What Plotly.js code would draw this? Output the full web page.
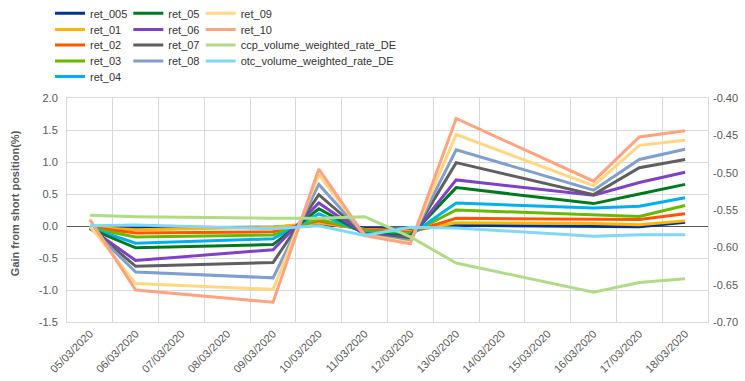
<!DOCTYPE html>
<html>
<head>
<meta charset="utf-8">
<script src="https://cdn.plot.ly/plotly-3.0.1.min.js"></script>
<style>html,body{margin:0;padding:0;background:#fff;}#chart{width:745px;height:381px;}</style>
</head>
<body>
<div id="chart"></div>
<script>
var dates = ['05/03/2020','06/03/2020','07/03/2020','08/03/2020','09/03/2020','10/03/2020','11/03/2020',
             '12/03/2020','13/03/2020','14/03/2020','15/03/2020','16/03/2020','17/03/2020','18/03/2020'];

var ret_005 = [-0.02, -0.03, null, null, -0.02, 0.03, -0.03, -0.05, 0.01, null, null, 0.00, -0.01, 0.06];
var ret_01  = [-0.02, -0.06, null, null, -0.02, 0.05, -0.05, -0.08, 0.05, null, null, 0.04, 0.02, 0.08];
var ret_02  = [-0.02, -0.11, null, null, -0.09, 0.08, -0.06, -0.10, 0.12, null, null, 0.10, 0.10, 0.19];
var ret_03  = [-0.03, -0.17, null, null, -0.14, 0.11, -0.08, -0.12, 0.25, null, null, 0.18, 0.15, 0.32];
var ret_04  = [-0.03, -0.27, null, null, -0.20, 0.19, -0.10, -0.14, 0.36, null, null, 0.28, 0.31, 0.44];
var ret_05  = [-0.04, -0.34, null, null, -0.29, 0.27, -0.12, -0.15, 0.60, null, null, 0.35, 0.50, 0.65];
var ret_06  = [-0.03, -0.54, null, null, -0.37, 0.36, -0.13, -0.18, 0.72, null, null, 0.48, 0.68, 0.84];
var ret_07  = [-0.03, -0.63, null, null, -0.57, 0.49, -0.13, -0.20, 0.99, null, null, 0.49, 0.91, 1.04];
var ret_08  = [-0.02, -0.72, null, null, -0.81, 0.65, -0.14, -0.23, 1.19, null, null, 0.56, 1.04, 1.20];
var ret_09  = [ 0.00, -0.90, null, null, -0.99, 0.80, -0.14, -0.26, 1.43, null, null, 0.63, 1.26, 1.34];
var ret_10  = [ 0.10, -1.00, null, null, -1.19, 0.89, -0.15, -0.28, 1.68, null, null, 0.70, 1.39, 1.49];
var ccp_volume_weighted_rate_DE = [-0.557, -0.559, null, null, -0.561, -0.561, -0.559, -0.586, -0.621, null, null, -0.660, -0.647, -0.642];
var otc_volume_weighted_rate_DE = [-0.571, -0.570, null, null, -0.575, -0.571, -0.584, -0.573, -0.574, null, null, -0.585, -0.583, -0.583];

var leftTickVals = [-1.5, -1.0, -0.5, 0.0, 0.5, 1.0, 1.5, 2.0];
var leftTickText = ['-1.5', '-1.0', '-0.5', '0.0', '0.5', '1.0', '1.5', '2.0'];
var rightTickVals = [-0.70, -0.65, -0.60, -0.55, -0.50, -0.45, -0.40];
var rightTickText = ['-0.70', '-0.65', '-0.60', '-0.55', '-0.50', '-0.45', '-0.40'];
var yTitle = 'Gain from short position(%)';

var seriesNames = ['ret_005','ret_01','ret_02','ret_03','ret_04','ret_05','ret_06','ret_07','ret_08','ret_09','ret_10',
                   'ccp_volume_weighted_rate_DE','otc_volume_weighted_rate_DE'];
var seriesValues = [ret_005, ret_01, ret_02, ret_03, ret_04, ret_05, ret_06, ret_07, ret_08, ret_09, ret_10,
                    ccp_volume_weighted_rate_DE, otc_volume_weighted_rate_DE];
var colors = ['#003399','#ffb400','#ff5500','#66bb00','#00b0f0','#007a1e','#8040c8','#5f5f5f','#7f9fd0','#ffd780','#ffa27f',
              '#b0dc88','#80d8f4'];

var W = 745, H = 381;
var colTextX = [90, 168.3, 240.7];
var rowY = [13.3, 29.5, 45, 61, 76.5];

var traces = [];
var layout = {
  width: W, height: H,
  margin: {l: 67, r: 37, t: 98, b: 59, pad: 0, autoexpand: false},
  paper_bgcolor: '#ffffff', plot_bgcolor: '#ffffff',
  font: {family: 'Liberation Sans, Arial, sans-serif', size: 11, color: '#595959'},
  xaxis: {
    type: 'category', categoryorder: 'array', categoryarray: dates,
    range: [-0.5, 13.5], tickson: 'boundaries', ticks: '',
    showgrid: true, gridcolor: '#d9d9d9', gridwidth: 1,
    showline: true, linecolor: '#d9d9d9', linewidth: 1, mirror: true,
    tickangle: -45, tickfont: {size: 11, color: '#595959'}, fixedrange: true, automargin: false
  },
  yaxis: {
    range: [-1.5, 2.0], tickvals: leftTickVals, ticktext: leftTickText, ticks: '',
    showgrid: true, gridcolor: '#d9d9d9', gridwidth: 1,
    showline: true, linecolor: '#d9d9d9', linewidth: 1, mirror: true,
    zeroline: true, zerolinecolor: '#595959', zerolinewidth: 1,
    tickfont: {size: 11, color: '#595959'}, ticklabelstandoff: 6, automargin: false
  },
  yaxis2: {
    overlaying: 'y', side: 'right', range: [-0.70, -0.40],
    tickvals: rightTickVals, ticktext: rightTickText, ticks: '',
    showgrid: false, zeroline: false, showline: false, automargin: false,
    tickfont: {size: 11, color: '#595959'}, ticklabelstandoff: 4
  },
  annotations: [{
    text: yTitle, xref: 'paper', yref: 'paper', x: -0.081, y: 0.531,
    xanchor: 'center', yanchor: 'middle', textangle: -90, showarrow: false,
    font: {size: 11, color: '#595959', weight: 'bold', family: 'Liberation Sans, Arial, sans-serif'}
  }],
  showlegend: true
};

for (var i = 0; i < seriesNames.length; i++) {
  var col = i < 5 ? 0 : (i < 9 ? 1 : 2);
  var row = i < 5 ? i : (i < 9 ? i - 5 : i - 9);
  var lg = i === 0 ? 'legend' : 'legend' + (i + 1);
  traces.push({
    type: 'scatter', mode: 'lines', name: seriesNames[i],
    x: dates, y: seriesValues[i], connectgaps: true,
    yaxis: i >= 11 ? 'y2' : 'y',
    line: {color: colors[i], width: 3},
    legend: lg, hoverinfo: 'skip'
  });
  layout[lg] = {
    xref: 'container', yref: 'container',
    x: (colTextX[col] - 40) / W, y: 1 - rowY[row] / H,
    xanchor: 'left', yanchor: 'middle',
    bgcolor: 'rgba(0,0,0,0)', borderwidth: 0,
    font: {size: 11, color: '#333333', family: 'Liberation Sans, Arial, sans-serif'}
  };
}

Plotly.newPlot('chart', traces, layout, {staticPlot: true, displayModeBar: false});
</script>
</body>
</html>
